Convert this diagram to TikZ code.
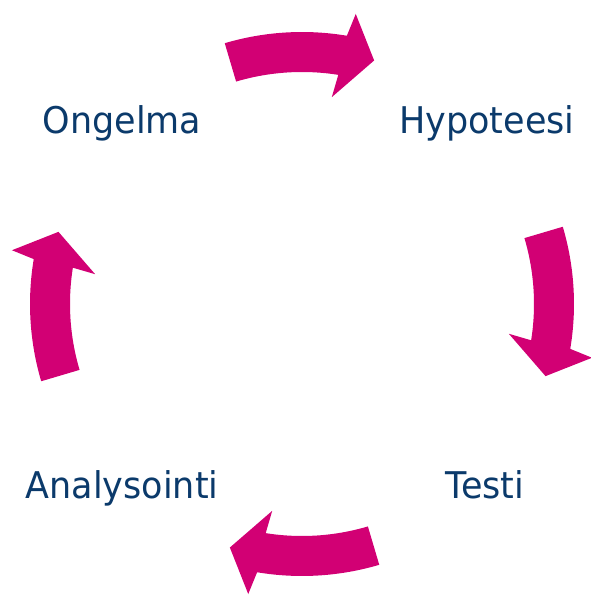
\documentclass[tikz,border=0pt]{standalone}
\usepackage{fontspec}
\setmainfont[FakeStretch=0.95]{DejaVu Sans}
\definecolor{cyclemagenta}{RGB}{210,0,116}
\definecolor{phaseblue}{RGB}{11,58,107}

\begin{document}
\begin{tikzpicture}[x=0.5pt,y=0.5pt,
  phase/.style={text=phaseblue,font=\fontsize{18.4}{22}\selectfont,anchor=base,inner sep=0pt},
  cyclearrow/.pic={
    \fill[cyclemagenta] (106.5:272) arc[start angle=106.5,end angle=80.5,radius=272]
      -- (79.5:295) -- (73.5:254) -- (81.8:209) -- (81:232)
      arc[start angle=81,end angle=106.5,radius=232] -- cycle;
  }]
\useasboundingbox (0,0) rectangle (590,595);
\coordinate (c) at (302,291);
% the four steps
\node[phase] (ongelma) at (122,461) {Ongelma};
\node[phase] (hypoteesi) at (487,461) {Hypoteesi};
\node[phase] (testi) at (485,96) {Testi};
\node[phase] (analysointi) at (122,96) {Analysointi};
% arrows round the cycle
\pic at (c) {cyclearrow};
\pic[rotate=-90] at (c) {cyclearrow};
\pic[rotate=180] at (c) {cyclearrow};
\pic[rotate=90] at (c) {cyclearrow};
\end{tikzpicture}
\end{document}
